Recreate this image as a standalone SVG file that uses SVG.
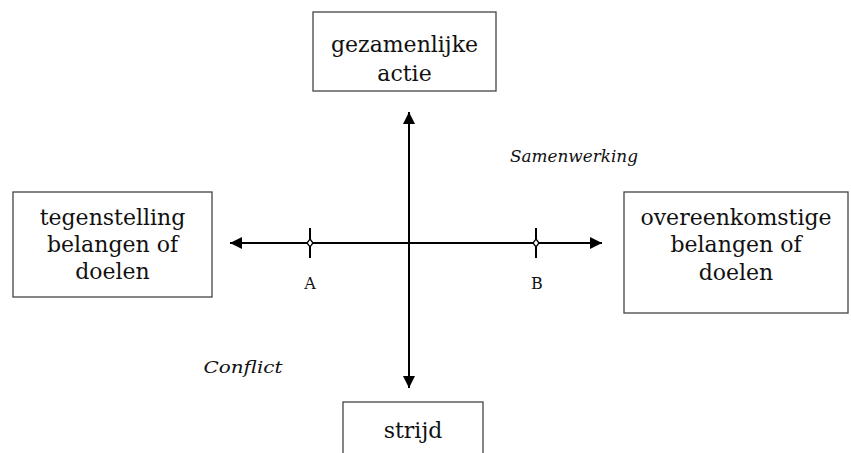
<svg xmlns="http://www.w3.org/2000/svg" width="851" height="453" viewBox="0 0 851 453">
<style>
.box{fill:#fff;stroke:#444;stroke-width:1.3}
text{fill:#111;text-anchor:middle}
.t{font-family:'DejaVu Serif',serif;font-size:22px}
.s{font-family:'DejaVu Serif',serif;font-size:16px}
.i{font-family:'DejaVu Serif',serif;font-size:17px;font-style:italic}
.ax{stroke:#000;stroke-width:2;fill:none}
</style>
<defs>
<marker id="ah" viewBox="0 0 10 10" refX="10" refY="5" markerWidth="7.5" markerHeight="6" markerUnits="strokeWidth" orient="auto">
<path d="M0,0 L10,5 L0,10 Z" fill="#000"/>
</marker>
</defs>
<rect width="851" height="453" fill="#fff"/>
<g id="connectors">
<line class="ax" x1="409" y1="250" x2="409" y2="112" marker-end="url(#ah)"/>
<line class="ax" x1="409" y1="240" x2="409" y2="388" marker-end="url(#ah)"/>
<line class="ax" x1="420" y1="243" x2="230" y2="243" marker-end="url(#ah)"/>
<line class="ax" x1="400" y1="243" x2="602" y2="243" marker-end="url(#ah)"/>
</g>
<g id="tickA">
<line class="ax" x1="310" y1="228" x2="310" y2="258"/>
<path d="M310,239 L313,243 L310,247 L307,243 Z" fill="#fff" stroke="#000" stroke-width="1.3"/>
<text class="s" x="310" y="289">A</text>
</g>
<g id="tickB">
<line class="ax" x1="536" y1="228" x2="536" y2="258"/>
<path d="M536,239 L539,243 L536,247 L533,243 Z" fill="#fff" stroke="#000" stroke-width="1.3"/>
<text class="s" x="537" y="289">B</text>
</g>
<g id="top">
<rect class="box" x="313" y="12" width="183" height="79"/>
<text class="t" x="404.5" y="52">gezamenlijke</text>
<text class="t" x="404.5" y="81">actie</text>
</g>
<g id="left">
<rect class="box" x="13" y="192" width="199" height="105"/>
<text class="t" x="112.5" y="225">tegenstelling</text>
<text class="t" x="112.5" y="252">belangen of</text>
<text class="t" x="112.5" y="279">doelen</text>
</g>
<g id="right">
<rect class="box" x="624" y="192" width="224" height="121"/>
<text class="t" x="736" y="225">overeenkomstige</text>
<text class="t" x="736" y="252">belangen of</text>
<text class="t" x="736" y="280">doelen</text>
</g>
<g id="bottom">
<rect class="box" x="343" y="402" width="140" height="60"/>
<text class="t" x="413" y="438">strijd</text>
</g>
<g id="labels">
<text class="i" x="574" y="162" textLength="128" lengthAdjust="spacingAndGlyphs">Samenwerking</text>
<text class="i" x="243" y="373" textLength="79" lengthAdjust="spacingAndGlyphs">Conflict</text>
</g>
</svg>
